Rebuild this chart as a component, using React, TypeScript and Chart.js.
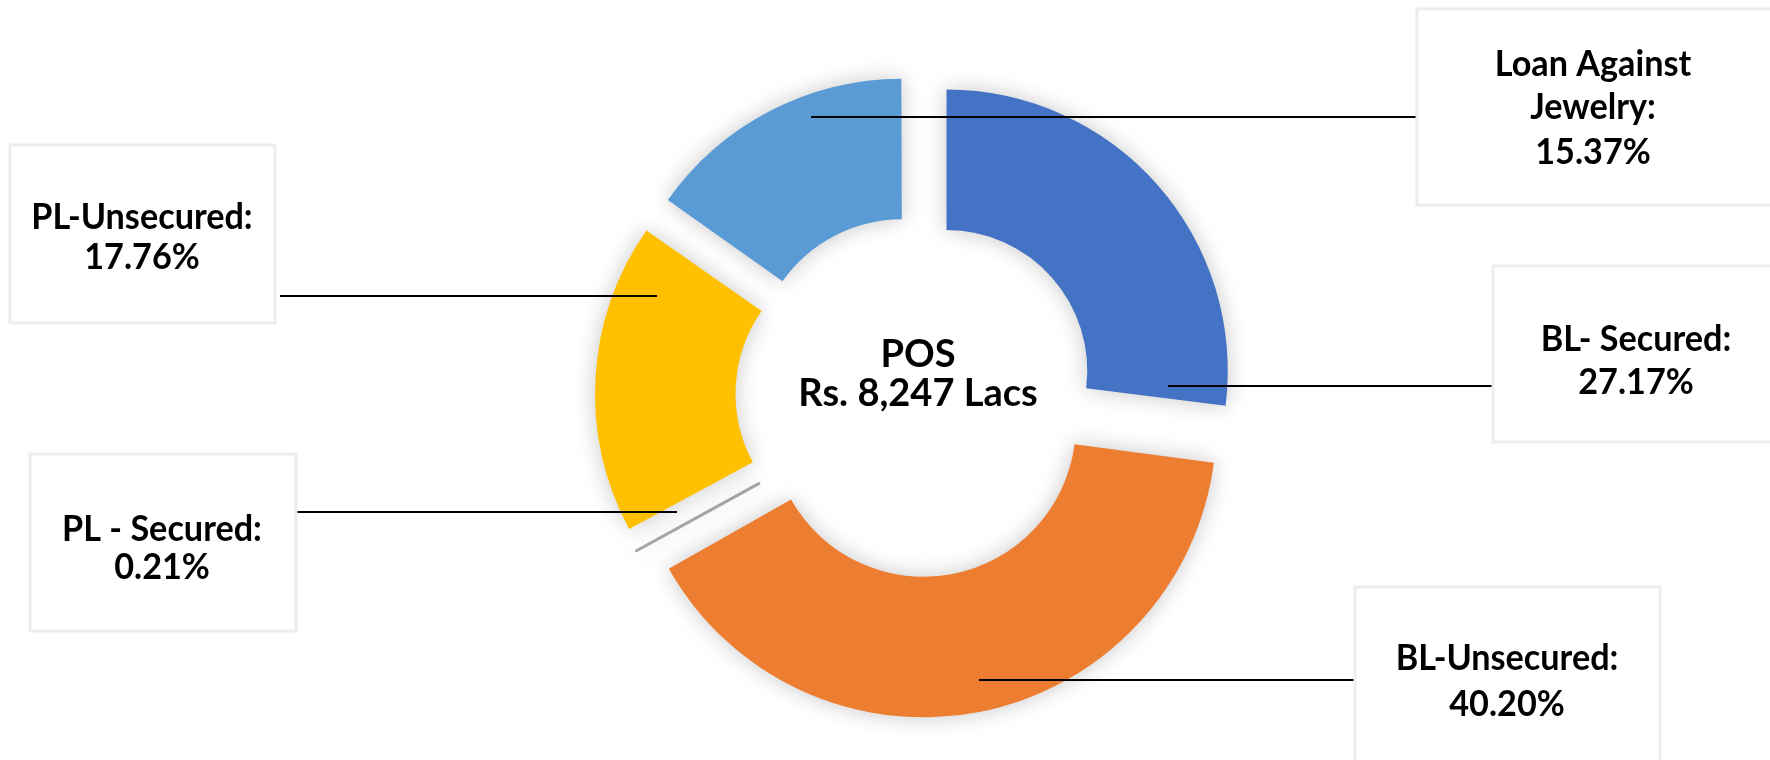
import React, { useEffect, useRef } from 'react';
import { Chart, registerables } from 'chart.js';

Chart.register(...registerables);

// ---- data ----
const categories = ['BL- Secured', 'BL-Unsecured', 'PL - Secured', 'PL-Unsecured', 'Loan Against Jewelry'];
const shares = [27.17, 40.2, 0.21, 17.76, 15.37];
const labelLines = [['BL- Secured:'], ['BL-Unsecured:'], ['PL - Secured:'], ['PL-Unsecured:'], ['Loan Against', 'Jewelry:']];
const centerTitle = 'POS';
const centerValue = 'Rs. 8,247 Lacs';

// ---- styles ----
const colors = ['#4472C4', '#ED7D31', '#A5A5A5', '#FFC000', '#5B9BD5'];
const offsets = [152, 116, 82, 152, 136];
const borderWidths = [0, 0, 3, 0, 0];
const LABEL_FONT = 'bold 36px Lato';
const LABEL_SX = 0.95;
const CENTER_FONT = 'bold 38px Lato';
const CENTER_SX = 1.0;

// ---- annotation layout (label boxes + leader lines) ----
const boxes = [
  { x: 1493, y: 266, w: 400, h: 176, tx: 1636, ty: [351, 394], lx1: 1168, lx2: 1493, ly: 386 },
  { x: 1355, y: 587, w: 305, h: 260, tx: 1507, ty: [670, 716], lx1: 979, lx2: 1355, ly: 680 },
  { x: 30, y: 454, w: 266, h: 177, tx: 162, ty: [541, 579], lx1: 296, lx2: 677, ly: 512 },
  { x: 10, y: 145, w: 265, h: 178, tx: 142, ty: [229, 269], lx1: 280, lx2: 657, ly: 296 },
  { x: 1417, y: 9, w: 400, h: 196, tx: 1593, ty: [76, 119, 164], lx1: 811, lx2: 1417, ly: 117 },
];
const centerBaselines = [367, 406];

function drawText(ctx: CanvasRenderingContext2D, text: string, cx: number, by: number, sx: number) {
  ctx.save();
  ctx.translate(cx, by);
  ctx.scale(sx, 1);
  ctx.fillText(text, 0, 0);
  ctx.restore();
}

const shadowPlugin = {
  id: 'segShadow',
  beforeDatasetsDraw(chart: any) {
    const c = chart.ctx;
    c.save();
    c.shadowColor = 'rgba(0,0,0,0.22)';
    c.shadowBlur = 22;
  },
  afterDatasetsDraw(chart: any) {
    chart.ctx.restore();
  },
};

const annotationPlugin = {
  id: 'labelsAndCenter',
  afterDraw(chart: any) {
    const ctx: CanvasRenderingContext2D = chart.ctx;
    const arc = chart.getDatasetMeta(0).data[0];
    const cx = arc ? arc.x : 918;
    ctx.save();
    // leader lines
    ctx.strokeStyle = '#000';
    ctx.lineWidth = 2;
    boxes.forEach((b) => {
      ctx.beginPath();
      ctx.moveTo(b.lx1, b.ly);
      ctx.lineTo(b.lx2, b.ly);
      ctx.stroke();
    });
    // boxes
    boxes.forEach((b) => {
      ctx.fillStyle = '#fff';
      ctx.fillRect(b.x, b.y, b.w, b.h);
      ctx.strokeStyle = '#ededed';
      ctx.lineWidth = 3;
      ctx.strokeRect(b.x, b.y, b.w, b.h);
    });
    // label texts
    ctx.fillStyle = '#000';
    ctx.textAlign = 'center';
    ctx.textBaseline = 'alphabetic';
    ctx.font = LABEL_FONT;
    boxes.forEach((b, i) => {
      const lines = [...labelLines[i], shares[i].toFixed(2) + '%'];
      lines.forEach((t, k) => drawText(ctx, t, b.tx, b.ty[k], LABEL_SX));
    });
    // center text
    ctx.font = CENTER_FONT;
    drawText(ctx, centerTitle, cx, centerBaselines[0], CENTER_SX);
    drawText(ctx, centerValue, cx, centerBaselines[1], CENTER_SX);
    ctx.restore();
  },
};

export default function App() {
  const ref = useRef<HTMLCanvasElement>(null);
  useEffect(() => {
    if (!ref.current) return;
    const chart = new Chart(ref.current, {
      type: 'doughnut',
      data: {
        labels: categories,
        datasets: [
          {
            data: shares,
            backgroundColor: colors,
            borderColor: colors,
            borderWidth: borderWidths,
            offset: offsets,
            hoverOffset: 0,
          },
        ],
      },
      options: {
        responsive: false,
        animation: false,
        radius: 281,
        cutout: '50%',
        layout: { padding: { left: 66, right: 0, top: 32, bottom: 0 } },
        plugins: { legend: { display: false }, tooltip: { enabled: false } },
        events: [],
      } as any,
      plugins: [shadowPlugin, annotationPlugin],
    });
    return () => chart.destroy();
  }, []);
  return (
    <div style={{ position: 'fixed', left: 0, top: 0, width: 1770, height: 760, background: '#fff' }}>
      <canvas ref={ref} width={1770} height={760} style={{ width: 1770, height: 760, display: 'block' }} />
    </div>
  );
}
